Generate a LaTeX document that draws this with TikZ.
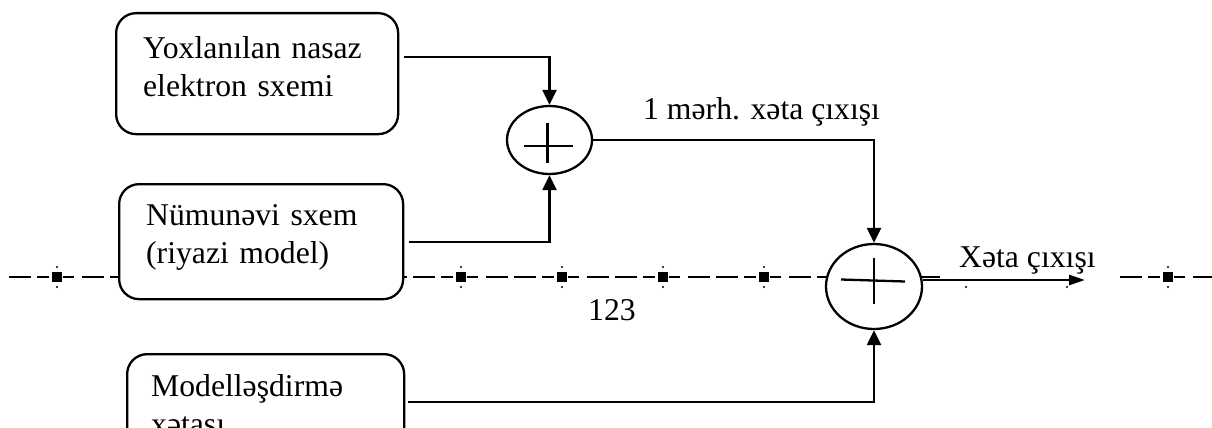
\documentclass[tikz,border=0pt]{standalone}
\usepackage{fontspec}
\setmainfont{Liberation Serif}
\usetikzlibrary{arrows.meta,shapes.geometric,calc}

\begin{document}
\begin{tikzpicture}[x=1pt,y=-1pt,
  every node/.style={font=\fontsize{31.7pt}{38pt}\selectfont},
  block/.style={draw, line width=2.3pt, rounded corners=20pt, fill=white,
                anchor=north west, align=left, inner ysep=0pt},
  summer/.style={draw, ellipse, line width=2.3pt, fill=white, inner sep=0pt},
  conn/.style={line width=2.3pt, -{Triangle[length=15pt,width=14pt]}},
  outarrow/.style={line width=2.6pt, -{Triangle[length=16pt,width=10pt]}},
  cross/.style={line width=2.3pt},
  gridline/.style={line width=1.8pt,
    dash pattern=on 11pt off 8pt on 22pt off 6pt on 22pt off 6pt on 12pt off 14pt,
    dash phase=47pt},
  tick/.style={fill=black},
  lbl/.style={inner sep=0pt, anchor=base west}
]
\useasboundingbox (0,0) rectangle (1212,428);
\clip (0,0) rectangle (1212,428);

% dash-dotted reference line with its square markers
\draw[gridline] (9,277) -- (1230,277);
\foreach \k in {0,...,11} {
  \fill[tick] ({57+101*\k-5},272) rectangle ++(10,10);
  \fill[tick] ({57+101*\k},267) circle (1.1pt);
  \fill[tick] ({57+101*\k},287) circle (1.1pt);
}

% input blocks
\node[block, text width=228pt, inner xsep=27pt, text height=45pt, text depth=76pt]
  (b1) at (115,12) {Yoxlanılan nasaz\\elektron sxemi};
\node[block, text width=230pt, inner xsep=27pt, text height=41pt, text depth=74pt]
  (b2) at (118,183) {Nümunəvi sxem\\(riyazi model)};
\node[block, text width=229pt, inner xsep=24pt, text height=42pt, text depth=80pt]
  (b3) at (126,353) {Modelləşdirmə\\xətası};

% summing junctions
\node[summer, minimum width=85pt, minimum height=68pt] (c1) at (549.5,140) {};
\node[summer, minimum width=96pt, minimum height=85pt] (c2) at (874,286.5) {};
\draw[cross] ($(c1)+(-26,6)$) -- ($(c1)+(23,6)$);
\draw[cross] ($(c1)+(-2,-17)$) -- ($(c1)+(-2,23)$);
\draw[cross] ($(c2)+(-33,-7)$) -- ($(c2)+(31,-5)$);
\draw[cross] ($(c2)+(0,-29)$) -- ($(c2)+(0,17)$);

% output label (white backing hides the reference line)
\node[lbl, fill=white, inner xsep=19pt, inner ysep=8pt, text depth=7pt]
  (xlab) at (940,267) {Xəta çıxışı};

% connectors
\draw[conn] ([xshift=5pt,yshift=-45pt]b1.north east) -| (c1.north);
\draw[conn] ([xshift=5pt,yshift=-59pt]b2.north east) -| (c1.south);
\draw[conn] (c1.east) -| (c2.north);
\draw[conn] ([xshift=3pt,yshift=-49pt]b3.north east) -| (c2.south);
\coordinate (out) at (1085,280);
\draw[outarrow] (c2.east |- out) -- (out);

% other labels
\node[lbl] (l1) at (643,119) {1 mərh. xəta çıxışı};
\node[lbl] (l2) at (588,320) {123};
\end{tikzpicture}
\end{document}
